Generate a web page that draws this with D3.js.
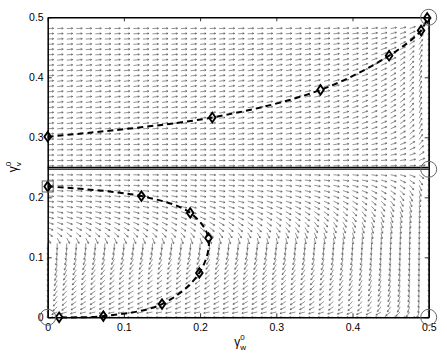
<!DOCTYPE html>
<html>
<head>
<meta charset="utf-8">
<script src="https://cdn.jsdelivr.net/npm/d3@7"></script>
<style>
  body { margin: 0; background: #fff; }
  svg { display: block; font-family: "Liberation Sans", Arial, Helvetica, sans-serif; }
</style>
</head>
<body>
<div id="chart"></div>
<script>
// canvas size
let width = 447,
    height = 358;

// ---------------------------//
//       DATA                 //
// ---------------------------//
let xTicks = [0, 0.1, 0.2, 0.3, 0.4, 0.5];
let yTicks = [0, 0.1, 0.2, 0.3, 0.4, 0.5];

// upper trajectory (diamonds)
let upperW = [0, 0.216, 0.358, 0.448, 0.490, 0.498];
let upperV = [0.301, 0.333, 0.379, 0.436, 0.478, 0.499];

// lower trajectory (diamonds)
let lowerW = [0, 0.123, 0.187, 0.211, 0.199, 0.150, 0.073, 0.015];
let lowerV = [0.218, 0.202, 0.174, 0.132, 0.074, 0.022, 0.002, 0.0];

// circled points
let circleW = [0.5, 0.5, 0.5, 0];
let circleV = [0.5, 0.2467, 0, 0];

// boxed start point
let startW = [0];
let startV = [0.218];

// separating lines between the two regions
let splitV = [0.25, 0.2468];

// quiver grid
let gridW = d3.range(0, 41).map(i => i * 0.0125);
let gridTop = d3.range(0, 27).map(i => 0.2525 + i * 0.0088);
let gridBottom = d3.range(0, 28).map(i => i * 0.0088);

// direction field, upper region (u, v normalised to 0..1)
function fieldTop(u, v) {
    return [1 - u * u, 1.2 * v * (1 - v)];
}
// direction field, lower region
function fieldBottom(u, v) {
    if (v > 0.5) return [1.2 * (1 - u) * (v - 0.5), -0.6 * v * (1 - v)];
    return [(1 - u) * (v - 0.5) * 0.8 * Math.sqrt(u), -0.15 * Math.min(1, v / 0.08)];
}

// ---------------------------//
//       SCALES               //
// ---------------------------//
let x = d3.scaleLinear().domain([0, 0.5]).range([47.7, 428.7]);
let y = d3.scaleLinear().domain([0, 0.5]).range([317.3, 17.3]);

let svg = d3.select("#chart")
    .append("svg")
    .attr("width", width)
    .attr("height", height);

// ---------------------------//
//       QUIVER               //
// ---------------------------//
let arrowLen = 6,
    headLen = 1.8;
let qpath = "";
function addArrow(w, v, d) {
    // direction in pixels through the scales
    let dx = x(w + 0.5 * d[0] * 0.001) - x(w);
    let dy = y(v + 0.25 * d[1] * 0.001) - y(v);
    let m = Math.hypot(dx, dy);
    if (m < 1e-9) return;
    dx /= m; dy /= m;
    let x0 = x(w), y0 = y(v);
    let x1 = x0 + dx * arrowLen, y1 = y0 + dy * arrowLen;
    let a = Math.atan2(dy, dx);
    qpath += "M" + x0 + "," + y0 + "L" + x1 + "," + y1;
    qpath += "M" + (x1 - headLen * Math.cos(a - 0.5)) + "," + (y1 - headLen * Math.sin(a - 0.5)) +
        "L" + x1 + "," + y1 +
        "L" + (x1 - headLen * Math.cos(a + 0.5)) + "," + (y1 - headLen * Math.sin(a + 0.5));
}
gridW.forEach(w => {
    gridTop.forEach(v => addArrow(w, v, fieldTop(w / 0.5, (v - 0.25) / 0.25)));
    gridBottom.forEach(v => addArrow(w, v, fieldBottom(w / 0.5, v / 0.25)));
});
svg.append("path")
    .attr("d", qpath)
    .attr("fill", "none")
    .attr("stroke", "#4a4a4a")
    .attr("stroke-width", 0.6);

// ---------------------------//
//       AXES                 //
// ---------------------------//
svg.append("g")
    .attr("transform", "translate(0," + y(0) + ")")
    .call(d3.axisBottom(x).tickValues(xTicks).tickFormat(d => d).tickSize(-4).tickSizeOuter(0).tickPadding(6));
svg.append("g")
    .attr("transform", "translate(0," + y(0.5) + ")")
    .call(d3.axisTop(x).tickValues(xTicks).tickFormat("").tickSize(-4).tickSizeOuter(0));
svg.append("g")
    .attr("transform", "translate(" + x(0) + ",0)")
    .call(d3.axisLeft(y).tickValues(yTicks).tickFormat(d => d).tickSize(-4).tickSizeOuter(0).tickPadding(4));
svg.append("g")
    .attr("transform", "translate(" + x(0.5) + ",0)")
    .call(d3.axisRight(y).tickValues(yTicks).tickFormat("").tickSize(-4).tickSizeOuter(0));

svg.selectAll(".domain").attr("stroke", "#000").attr("stroke-width", 1.5);
svg.selectAll(".tick line").attr("stroke", "#000").attr("stroke-width", 0.8);
svg.selectAll(".tick text")
    .attr("fill", "#000")
    .style("font-size", "10.5px")
    .style("font-family", "'Liberation Sans', Arial, sans-serif");

// split lines
svg.selectAll("line.split")
    .data(splitV)
    .enter()
    .append("line")
    .attr("class", "split")
    .attr("x1", x(0))
    .attr("x2", x(0.5))
    .attr("y1", d => y(d))
    .attr("y2", d => y(d))
    .attr("stroke", "#000")
    .attr("stroke-width", 1.2);

// ---------------------------//
//       TRAJECTORIES         //
// ---------------------------//
let line = d3.line()
    .x(d => x(d[0]))
    .y(d => y(d[1]))
    .curve(d3.curveCatmullRom.alpha(0.5));

let upper = upperW.map((w, i) => [w, upperV[i]]);
let lower = lowerW.map((w, i) => [w, lowerV[i]]);

[upper, lower].forEach(pts => {
    svg.append("path")
        .attr("d", line(pts))
        .attr("fill", "none")
        .attr("stroke", "#000")
        .attr("stroke-width", 2)
        .attr("stroke-dasharray", "6,4");

    svg.selectAll(null)
        .data(pts)
        .enter()
        .append("path")
        .attr("d", d3.symbol().type(d3.symbolDiamond2).size(44))
        .attr("transform", d => "translate(" + x(d[0]) + "," + y(d[1]) + ") scale(0.8,1.15)")
        .attr("fill", "none")
        .attr("stroke", "#000")
        .attr("stroke-width", 2);
});

// circled points
svg.selectAll("circle.eq")
    .data(circleW)
    .enter()
    .append("circle")
    .attr("class", "eq")
    .attr("cx", d => x(d))
    .attr("cy", (d, i) => y(circleV[i]))
    .attr("r", 8)
    .attr("fill", "none")
    .attr("stroke", "#666")
    .attr("stroke-width", 1);

// boxed start point
svg.selectAll("rect.start")
    .data(startW)
    .enter()
    .append("rect")
    .attr("class", "start")
    .attr("x", d => x(d) - 5.5)
    .attr("y", (d, i) => y(startV[i]) - 5.5)
    .attr("width", 11)
    .attr("height", 11)
    .attr("fill", "none")
    .attr("stroke", "#666")
    .attr("stroke-width", 1);

// ---------------------------//
//       LABELS               //
// ---------------------------//
let xl = svg.append("text")
    .attr("x", x(0.25) - 4)
    .attr("y", 346)
    .style("font-size", "12px");
xl.append("tspan").text("γ");
xl.append("tspan").attr("dy", -6).style("font-size", "8px").text("0");
xl.append("tspan").attr("dx", -4.5).attr("dy", 10).style("font-size", "8px").text("w");

let yl = svg.append("text")
    .attr("transform", "translate(17," + (y(0.25) + 5) + ") rotate(-90)")
    .style("font-size", "12px");
yl.append("tspan").text("γ");
yl.append("tspan").attr("dy", -6).style("font-size", "8px").text("0");
yl.append("tspan").attr("dx", -4.5).attr("dy", 10).style("font-size", "8px").text("v");
</script>
</body>
</html>
